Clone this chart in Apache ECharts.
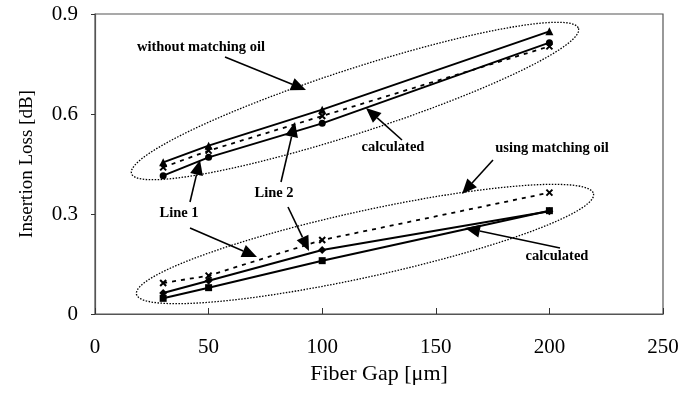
<!DOCTYPE html>
<html>
<head>
<meta charset="utf-8">
<script src="https://cdn.jsdelivr.net/npm/echarts@6/dist/echarts.min.js"></script>
<style>
html,body{margin:0;padding:0;background:#fff;}
#c{width:695px;height:396px;}
</style>
</head>
<body>
<div id="c"></div>
<script>
var fiberGap = [30, 50, 100, 200];
var noOilLine1 = [0.455, 0.505, 0.613, 0.848];
var noOilLine2 = [0.415, 0.470, 0.572, 0.814];
var noOilCalc = [0.440, 0.490, 0.594, 0.803];
var oilCalc = [0.093, 0.115, 0.222, 0.364];
var oilLine1 = [0.063, 0.100, 0.192, 0.308];
var oilLine2 = [0.047, 0.079, 0.160, 0.310];
var xTicks = [0, 50, 100, 150, 200, 250];
var yTicks = [0, 0.3, 0.6, 0.9];

function pairs(ys){ return fiberGap.map(function(x,i){ return [x, ys[i]]; }); }
var xPath = 'path://M0,0L10,10M10,0L0,10';

function series(ys, symbol, size, dashed){
  return {
    type:'line', data: pairs(ys), symbol: symbol, symbolSize: size,
    lineStyle:{color:'#000', width: dashed ? 1.8 : 2, type: dashed ? [4,5] : 'solid'},
    itemStyle:{color:'#000', borderColor:'#000', borderWidth: symbol===xPath ? 2 : 0},
    animation:false, z: 3
  };
}

function ellipse(cx, cy, a, b, deg){
  var t = deg*Math.PI/180, pts=[];
  for (var i=0;i<=120;i++){
    var p = i/120*2*Math.PI;
    var u = a*Math.cos(p), v = b*Math.sin(p);
    pts.push([cx + u*Math.cos(t) - v*Math.sin(t), cy + u*Math.sin(t) + v*Math.cos(t)]);
  }
  return {type:'polyline', shape:{points:pts}, style:{stroke:'#000', fill:null, lineWidth:1.3, lineDash:[1.5,1.5]}, z:10};
}
function arrow(x1,y1,x2,y2){
  var dx=x2-x1, dy=y2-y1, L=Math.sqrt(dx*dx+dy*dy), ux=dx/L, uy=dy/L;
  var hl=15, hw=6.5;
  var bx=x2-ux*hl, by=y2-uy*hl;
  return [
    {type:'line', shape:{x1:x1,y1:y1,x2:bx,y2:by}, style:{stroke:'#000', lineWidth:1.6}, z:11},
    {type:'polygon', shape:{points:[[x2,y2],[bx-uy*hw,by+ux*hw],[bx+uy*hw,by-ux*hw]]}, style:{fill:'#000'}, z:11}
  ];
}
function label(text,x,y){
  return {type:'text', x:x, y:y, style:{text:text, fill:'#000', font:'bold 14.5px "Liberation Serif", serif', textAlign:'center', textVerticalAlign:'middle'}, z:12};
}

var graphics = [
  ellipse(355, 101, 235, 32, -18),
  ellipse(365, 244, 234, 33, -12.4),
  label('without matching oil', 201, 47),
  label('calculated', 393, 147),
  label('Line 1', 179, 213),
  label('Line 2', 274, 193),
  label('using matching oil', 552, 148),
  label('calculated', 557, 256)
].concat(
  arrow(225,57,306,90),
  arrow(402,140,366,108),
  arrow(190,202,200,160),
  arrow(190,228,257,257),
  arrow(281,182,295,122),
  arrow(288,207,309,251),
  arrow(493,160,462,194),
  arrow(560,248,465,228)
);

var chart = echarts.init(document.getElementById('c'), null, {renderer:'canvas'});
chart.setOption({
  backgroundColor:'#fff',
  animation:false,
  grid:{left:95, right:32, top:14, bottom:82, show:true, borderColor:'#555', borderWidth:1.2, backgroundColor:'#fff'},
  xAxis:{
    type:'value', min:0, max:250, interval:50,
    name:'Fiber Gap [\u03bcm]', nameLocation:'middle', nameGap:48,
    nameTextStyle:{fontFamily:'Liberation Serif', fontSize:22, color:'#000'},
    axisLine:{show:true, lineStyle:{color:'#555', width:1.2}},
    axisTick:{show:true, inside:true, length:6, lineStyle:{color:'#333'}},
    axisLabel:{fontFamily:'Liberation Serif', fontSize:21, color:'#000', margin:23,
      formatter:function(v){ return xTicks.indexOf(v)>=0 ? String(v) : ''; }},
    splitLine:{show:false}
  },
  yAxis:{
    type:'value', min:0, max:0.9, interval:0.3,
    name:'Insertion Loss [dB]', nameLocation:'middle', nameGap:58,
    nameTextStyle:{fontFamily:'Liberation Serif', fontSize:19, color:'#000'},
    axisLine:{show:true, lineStyle:{color:'#555', width:1.2}},
    axisTick:{show:true, inside:false, length:4, lineStyle:{color:'#333'}},
    axisLabel:{fontFamily:'Liberation Serif', fontSize:21, color:'#000', margin:17,
      formatter:function(v){ var s = yTicks.filter(function(t){return Math.abs(t-v)<1e-9;}); return s.length ? (v===0?'0':v.toFixed(1)) : ''; }},
    splitLine:{show:false}
  },
  series:[
    series(noOilLine1, 'triangle', 8, false),
    series(noOilLine2, 'circle', 7, false),
    series(noOilCalc, xPath, 6, true),
    series(oilCalc, xPath, 6, true),
    series(oilLine1, 'diamond', 8, false),
    series(oilLine2, 'rect', 7, false)
  ],
  graphic: graphics
});
</script>
</body>
</html>
